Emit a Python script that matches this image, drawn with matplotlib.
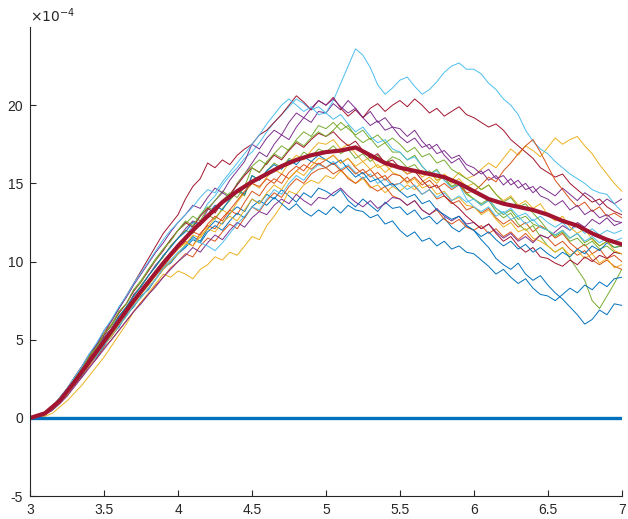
import numpy as np
import matplotlib.pyplot as plt
from matplotlib.ticker import FuncFormatter

# time grid of the paths (step 0.05) and of the mean (step 0.1)
t = np.round(np.linspace(3, 7, 81), 2)
t_mean = np.round(np.linspace(3, 7, 41), 2)

# sample paths, values in units of 1e-4
paths = [
    [0, 0.0, 0.2, 0.6, 1.0, 1.6, 2.1, 2.8, 3.5, 3.9, 4.6, 5.3, 5.8, 6.6, 7.1, 7.8, 8.2, 8.9, 9.6, 9.9, 10.5,
     11.0, 11.6, 11.3, 12.1, 12.6, 12.4, 13.1, 13.5, 13.2, 14.0, 13.7, 14.3, 14.0, 14.6, 14.2, 13.8, 14.4, 14.1, 14.7, 14.5,
     14.2, 14.6, 13.9, 13.5, 14.0, 13.6, 13.2, 13.8, 13.4, 13.5, 13.0, 13.3, 12.7, 12.9, 12.4, 12.8, 12.2, 11.9, 12.3, 12.0,
     11.4, 10.9, 10.2, 9.8, 9.5, 9.9, 9.2, 8.8, 9.1, 8.5, 8.0, 7.6, 7.1, 6.6, 6.0, 6.3, 6.9, 6.6, 7.3, 7.2],
    [0, 0.05, 0.3, 0.6, 1.1, 1.5, 2.3, 2.8, 3.6, 4.0, 4.8, 5.5, 6.0, 6.7, 7.3, 8.0, 8.5, 9.2, 9.6, 10.3, 10.8,
     11.3, 11.0, 11.8, 12.3, 12.1, 12.8, 13.3, 13.0, 13.8, 14.5, 14.2, 14.9, 15.3, 15.0, 15.7, 16.1, 15.8, 16.4, 16.2, 16.5,
     16.8, 16.3, 16.6, 16.0, 15.6, 15.9, 15.3, 15.5, 14.9, 15.0, 15.4, 14.8, 14.3, 14.6, 14.0, 14.2, 13.7, 13.9, 13.3, 13.5,
     13.1, 13.4, 12.8, 12.4, 12.7, 12.2, 12.5, 11.9, 12.3, 12.0, 11.5, 11.8, 11.2, 10.8, 11.1, 10.5, 10.8, 10.2, 10.4, 10.0],
    [0, 0.0, 0.1, 0.3, 0.7, 1.1, 1.6, 2.1, 2.7, 3.3, 3.9, 4.6, 5.3, 6.0, 6.8, 7.4, 8.0, 8.6, 9.2, 9.0, 9.4,
     9.2, 8.9, 9.5, 9.8, 10.3, 10.1, 10.6, 10.4, 11.0, 11.6, 11.4, 12.3, 12.9, 13.6, 14.5, 14.3, 14.9, 15.2, 15.0, 15.5,
     15.3, 15.8, 15.4, 15.0, 15.3, 14.7, 14.9, 14.4, 14.8, 14.5, 14.9, 14.6, 15.1, 15.4, 15.0, 15.6, 15.2, 15.7, 15.3, 15.5,
     15.9, 16.3, 16.0, 16.6, 17.2, 16.8, 17.4, 17.1, 16.7, 17.3, 17.9, 17.5, 17.8, 18.0, 17.4, 16.9, 16.2, 15.6, 15.0, 14.5],
    [0, 0.05, 0.3, 0.6, 1.2, 1.6, 2.4, 3.0, 3.8, 4.3, 5.2, 5.7, 6.5, 7.0, 7.9, 8.4, 9.1, 9.8, 10.3, 11.0, 11.5,
     12.1, 12.6, 12.4, 13.3, 13.9, 14.4, 14.1, 15.0, 15.6, 16.3, 17.0, 16.7, 17.5, 18.1, 17.8, 18.6, 19.2, 18.9, 19.6, 19.5,
     20.1, 19.7, 20.3, 19.8, 19.2, 19.6, 18.9, 19.2, 18.6, 18.5, 18.0, 18.4, 17.7, 17.2, 17.5, 16.8, 16.3, 16.6, 15.9, 15.5,
     15.8, 15.2, 15.5, 14.9, 15.3, 14.7, 15.0, 14.4, 14.8, 14.5, 14.2, 14.7, 14.3, 13.9, 14.4, 14.1, 13.6, 14.0, 13.7, 14.0],
    [0, 0.1, 0.35, 0.7, 1.3, 1.8, 2.6, 3.2, 4.0, 4.6, 5.4, 6.0, 6.8, 7.3, 8.2, 8.8, 9.5, 10.2, 10.8, 11.4, 12.0,
     12.4, 12.9, 12.6, 13.4, 13.9, 14.5, 14.2, 15.0, 15.6, 16.1, 16.5, 16.2, 16.9, 17.4, 17.1, 17.8, 18.3, 18.0, 18.7, 18.5,
     18.9, 18.4, 18.7, 18.0, 17.6, 17.9, 17.3, 17.6, 17.0, 17.0, 16.5, 16.8, 16.1, 15.6, 15.9, 15.2, 14.8, 15.1, 14.4, 14.0,
     13.6, 13.9, 13.2, 12.8, 13.1, 12.4, 12.0, 12.3, 11.6, 11.0, 10.6, 10.9, 10.2, 9.5, 8.8, 7.5, 7.0, 7.8, 8.6, 9.5],
    [0, 0.05, 0.25, 0.6, 1.0, 1.6, 2.2, 2.9, 3.5, 4.2, 4.8, 5.5, 6.1, 6.8, 7.4, 8.1, 8.6, 9.3, 9.8, 10.5, 11.0,
     11.6, 12.3, 12.9, 13.7, 14.2, 14.9, 15.5, 16.0, 16.6, 17.0, 17.6, 18.3, 18.9, 19.4, 19.9, 20.4, 20.1, 19.7, 19.9, 19.5,
     20.3, 21.4, 22.5, 23.6, 23.2, 22.4, 21.3, 20.7, 21.1, 21.6, 21.8, 21.2, 20.7, 21.0, 21.5, 22.1, 22.5, 22.7, 22.3, 22.3,
     22.0, 21.4, 21.0, 20.4, 20.0, 19.4, 18.4, 17.7, 17.2, 16.9, 16.4, 16.0, 15.6, 15.3, 15.0, 14.6, 14.4, 14.3, 13.7, 13.2],
    [0, 0.1, 0.35, 0.7, 1.3, 1.9, 2.6, 3.3, 4.0, 4.7, 5.4, 6.2, 7.0, 7.8, 8.6, 9.4, 10.2, 11.0, 11.8, 12.4, 13.0,
     14.0, 14.8, 15.3, 16.3, 16.0, 16.5, 16.2, 16.8, 17.2, 17.5, 18.1, 18.4, 18.9, 19.4, 20.0, 20.6, 20.2, 19.7, 20.3, 20.0,
     20.5, 19.8, 19.3, 19.7, 19.2, 19.8, 20.1, 19.6, 20.0, 20.3, 19.9, 20.4, 20.0, 19.5, 19.8, 19.3, 19.6, 19.9, 19.4, 19.2,
     18.9, 18.6, 18.8, 18.4, 17.8, 17.4, 17.0, 16.6, 16.0, 15.7, 15.4, 15.6, 15.0, 14.6, 14.2, 13.8, 14.0, 13.5, 13.2, 13.0],
    [0, 0.0, 0.25, 0.5, 1.0, 1.5, 2.2, 2.7, 3.4, 4.0, 4.7, 5.2, 5.9, 6.5, 7.2, 7.7, 8.3, 8.9, 9.5, 10.0, 10.5,
     10.9, 11.4, 11.2, 11.9, 12.3, 12.0, 12.6, 13.1, 12.8, 13.5, 13.9, 13.6, 14.1, 13.7, 13.3, 13.7, 13.2, 12.9, 13.3, 13.0,
     13.5, 13.1, 13.6, 13.3, 13.2, 12.8, 13.0, 12.4, 12.6, 12.0, 11.6, 11.9, 11.3, 11.5, 11.0, 11.3, 10.8, 11.0, 10.6, 10.5,
     10.1, 9.7, 9.2, 9.5, 9.0, 8.6, 8.9, 8.3, 7.9, 7.8, 7.5, 7.9, 8.3, 8.0, 8.5, 8.2, 8.7, 8.4, 8.9, 9.0],
    [0, 0.05, 0.2, 0.5, 1.0, 1.4, 2.1, 2.6, 3.3, 3.8, 4.5, 5.0, 5.6, 6.2, 6.8, 7.4, 7.9, 8.5, 9.0, 9.6, 10.0,
     10.5, 10.3, 11.0, 11.5, 11.3, 11.9, 12.4, 12.1, 12.8, 13.5, 13.2, 13.9, 14.4, 14.1, 14.8, 15.3, 15.0, 15.6, 15.9, 16.0,
     15.6, 15.9, 15.3, 15.0, 15.4, 14.8, 14.5, 14.8, 14.2, 14.0, 13.6, 13.9, 13.3, 13.0, 13.3, 12.7, 12.4, 12.7, 12.2, 12.0,
     12.3, 11.8, 12.1, 11.6, 11.9, 11.4, 11.8, 11.3, 11.7, 11.5, 11.0, 11.3, 10.8, 10.4, 10.7, 10.1, 9.8, 10.1, 9.7, 9.5],
    [0, 0.05, 0.2, 0.6, 1.0, 1.5, 2.2, 2.8, 3.4, 4.0, 4.7, 5.2, 5.9, 6.5, 7.2, 7.7, 8.3, 8.9, 9.5, 10.0, 10.5,
     11.1, 11.7, 11.5, 12.2, 12.8, 13.3, 13.0, 13.8, 14.4, 15.0, 14.7, 15.4, 15.9, 15.6, 16.3, 16.8, 16.5, 17.1, 17.6, 17.5,
     17.8, 17.2, 17.5, 16.9, 16.4, 16.7, 16.0, 16.2, 15.7, 15.5, 15.0, 15.3, 14.7, 14.9, 14.3, 14.5, 13.9, 14.1, 13.6, 13.5,
     13.0, 13.3, 12.7, 12.2, 12.5, 11.9, 12.1, 11.5, 11.3, 11.0, 10.6, 10.9, 10.4, 10.7, 10.2, 10.5, 9.9, 10.2, 9.6, 9.8],
    [0, 0.0, 0.2, 0.5, 0.9, 1.4, 2.0, 2.6, 3.2, 3.8, 4.4, 5.0, 5.6, 6.2, 6.8, 7.3, 7.9, 8.4, 9.0, 9.5, 10.0,
     10.4, 10.9, 10.6, 11.2, 11.7, 11.4, 12.0, 12.5, 12.2, 12.8, 13.2, 13.0, 13.6, 14.0, 13.7, 14.3, 13.9, 13.6, 14.1, 14.0,
     14.4, 14.7, 14.2, 13.8, 13.5, 13.9, 13.4, 13.7, 14.1, 14.0, 13.6, 13.9, 13.3, 13.0, 13.4, 12.9, 12.6, 12.9, 12.4, 12.5,
     12.1, 12.4, 11.9, 11.5, 11.8, 11.3, 11.6, 11.2, 11.7, 11.5, 11.9, 12.3, 12.0, 12.5, 12.2, 12.7, 12.4, 12.8, 12.3, 12.5],
    [0, 0.05, 0.3, 0.6, 1.2, 1.7, 2.4, 3.0, 3.8, 4.4, 5.1, 5.7, 6.5, 7.1, 7.8, 8.5, 9.1, 9.7, 10.3, 11.0, 11.5,
     12.0, 11.8, 12.5, 13.0, 12.7, 13.4, 13.9, 14.5, 14.2, 15.5, 15.2, 15.8, 16.3, 16.0, 16.6, 16.4, 17.0, 16.7, 17.2, 17.0,
     17.4, 16.9, 17.2, 16.6, 16.9, 16.4, 16.8, 16.3, 16.7, 16.5, 16.0, 16.2, 15.6, 15.8, 15.2, 15.4, 14.8, 14.9, 14.3, 14.0,
     13.7, 14.0, 13.4, 13.0, 13.3, 12.7, 12.9, 12.4, 12.2, 12.0, 11.6, 11.9, 11.3, 11.5, 11.0, 11.3, 10.8, 11.0, 10.6, 10.5],
    [0, 0.05, 0.25, 0.6, 1.0, 1.5, 2.2, 2.8, 3.5, 4.0, 4.7, 5.3, 5.9, 6.5, 7.2, 7.7, 8.3, 8.9, 9.6, 10.1, 10.6,
     11.0, 11.5, 11.2, 11.0, 10.7, 11.2, 11.8, 12.4, 12.9, 13.5, 13.3, 14.0, 14.6, 14.3, 15.0, 15.5, 15.2, 15.8, 16.2, 16.0,
     16.4, 15.9, 16.2, 15.7, 15.3, 15.6, 15.0, 15.3, 14.8, 15.0, 14.6, 14.9, 14.3, 14.6, 14.1, 14.4, 13.9, 14.2, 13.8, 14.0,
     13.6, 13.9, 13.4, 13.1, 13.4, 12.9, 13.1, 12.6, 12.9, 12.5, 12.2, 12.5, 12.0, 12.3, 11.8, 12.1, 11.7, 12.0, 11.8, 12.0],
    [0, 0.05, 0.3, 0.7, 1.2, 1.8, 2.5, 3.1, 3.9, 4.5, 5.3, 5.9, 6.7, 7.3, 8.1, 8.7, 9.4, 10.1, 10.7, 11.4, 12.0,
     12.5, 12.2, 12.9, 13.4, 13.1, 13.8, 14.3, 14.9, 15.5, 16.0, 15.7, 16.3, 16.8, 16.5, 17.1, 17.6, 17.3, 17.8, 18.2, 18.0,
     18.3, 17.8, 17.4, 17.7, 17.1, 16.6, 16.9, 16.3, 16.5, 16.0, 15.6, 15.8, 15.2, 14.7, 14.9, 14.2, 13.8, 13.4, 12.9, 12.5,
     12.1, 12.4, 11.8, 11.3, 11.6, 11.0, 10.6, 10.9, 10.3, 10.2, 9.9, 9.7, 10.1, 9.8, 10.3, 10.0, 10.4, 10.2, 10.6, 10.5],
    [0, 0.05, 0.25, 0.6, 1.1, 1.7, 2.4, 3.0, 3.7, 4.4, 5.1, 5.7, 6.5, 7.1, 7.8, 8.4, 9.1, 9.7, 10.4, 10.9, 11.5,
     11.9, 12.5, 12.3, 13.0, 13.6, 13.3, 14.0, 14.6, 14.3, 15.5, 15.2, 15.8, 16.2, 15.9, 16.5, 16.2, 16.7, 16.4, 16.8, 16.5,
     16.2, 16.5, 15.9, 15.4, 15.7, 15.1, 15.3, 14.8, 15.0, 14.5, 14.1, 14.3, 13.7, 13.9, 13.3, 13.0, 12.7, 12.9, 12.3, 12.0,
     11.6, 11.9, 11.4, 11.0, 11.3, 10.8, 11.1, 10.6, 10.9, 10.5, 10.2, 10.6, 10.3, 10.8, 10.5, 11.0, 10.7, 11.2, 10.9, 11.0],
    [0, 0.05, 0.25, 0.6, 1.1, 1.6, 2.3, 2.9, 3.6, 4.2, 4.9, 5.5, 6.2, 6.8, 7.5, 8.1, 8.7, 9.3, 9.9, 10.5, 11.0,
     11.4, 11.9, 11.7, 12.4, 12.9, 12.6, 13.3, 13.9, 14.5, 15.0, 14.8, 15.3, 15.0, 15.6, 15.3, 15.8, 16.2, 15.9, 16.3, 16.0,
     16.3, 15.8, 16.1, 15.6, 15.9, 15.4, 15.7, 15.2, 15.6, 15.5, 15.1, 15.4, 14.9, 15.2, 14.7, 15.0, 14.6, 14.9, 14.4, 14.5,
     14.9, 15.4, 15.1, 15.8, 16.3, 16.9, 17.4, 17.8, 17.0, 16.1, 15.2, 14.6, 14.0, 13.5, 13.8, 13.2, 13.5, 12.9, 13.1, 12.8],
    [0, 0.05, 0.2, 0.6, 1.0, 1.5, 2.2, 2.8, 3.5, 4.1, 4.8, 5.3, 6.0, 6.7, 7.3, 7.9, 8.5, 9.1, 9.7, 10.3, 10.8,
     11.2, 11.0, 11.6, 12.1, 11.9, 12.5, 12.9, 12.6, 13.3, 14.0, 13.7, 14.4, 14.9, 14.6, 15.3, 15.8, 15.5, 16.1, 16.6, 16.5,
     16.8, 16.3, 16.6, 16.1, 16.4, 15.9, 16.2, 15.7, 16.1, 16.0, 15.6, 15.9, 15.4, 15.7, 15.2, 15.5, 15.0, 15.3, 14.8, 15.0,
     14.6, 14.9, 14.3, 13.9, 14.2, 13.6, 13.9, 13.4, 13.7, 13.0, 12.6, 12.9, 12.2, 11.8, 12.1, 11.4, 11.0, 11.3, 10.7, 10.5],
    [0, 0.05, 0.3, 0.7, 1.2, 1.8, 2.6, 3.3, 4.1, 4.7, 5.6, 6.2, 7.0, 7.7, 8.5, 9.2, 9.9, 10.6, 11.2, 11.9, 12.5,
     13.0, 13.6, 13.4, 14.1, 14.7, 14.4, 15.2, 15.8, 16.4, 17.5, 17.2, 17.9, 18.4, 18.1, 18.9, 19.5, 19.2, 19.8, 20.3, 20.0,
     20.4, 19.9, 19.5, 19.8, 19.2, 18.7, 19.0, 18.4, 18.6, 18.0, 17.6, 17.9, 17.3, 17.5, 16.9, 17.1, 16.6, 16.8, 16.2, 16.0,
     15.6, 15.9, 15.3, 15.5, 14.9, 15.2, 14.6, 14.8, 14.2, 14.0, 13.6, 13.9, 13.3, 13.6, 13.0, 13.3, 12.8, 13.0, 12.6, 12.5],
    [0, 0.1, 0.3, 0.7, 1.3, 1.7, 2.6, 3.1, 4.0, 4.5, 5.4, 5.9, 6.8, 7.3, 8.2, 8.7, 9.5, 10.1, 10.8, 11.3, 12.0,
     12.6, 12.3, 13.0, 13.5, 13.2, 13.9, 14.4, 14.1, 14.8, 16.0, 15.7, 16.4, 16.9, 16.6, 17.2, 17.7, 17.4, 17.9, 18.3, 18.0,
     18.4, 18.9, 18.5, 18.1, 18.4, 17.8, 18.1, 17.6, 17.9, 17.5, 17.0, 17.3, 16.7, 16.9, 16.3, 16.5, 15.9, 15.6, 15.3, 15.0,
     14.6, 14.9, 14.3, 13.8, 14.1, 13.5, 13.7, 13.1, 12.6, 12.0, 11.7, 12.0, 11.5, 11.8, 11.2, 11.5, 11.0, 11.3, 10.9, 11.0],
    [0, 0.05, 0.3, 0.7, 1.3, 1.9, 2.6, 3.3, 4.1, 4.8, 5.6, 6.3, 7.1, 7.8, 8.6, 9.3, 10.0, 10.7, 11.4, 12.0, 12.5,
     13.0, 13.5, 14.1, 14.6, 14.4, 15.1, 15.7, 16.3, 16.9, 17.5, 18.1, 18.8, 19.4, 20.0, 20.4, 20.0, 19.6, 19.9, 19.4, 19.5,
     19.1, 19.4, 18.8, 18.3, 18.6, 18.0, 17.6, 17.8, 17.2, 17.0, 16.5, 16.7, 16.1, 15.6, 15.8, 15.2, 14.7, 14.9, 14.0, 13.5,
     13.2, 13.5, 12.9, 13.2, 12.7, 12.9, 12.4, 12.7, 12.2, 12.0, 11.7, 12.0, 11.5, 11.8, 11.3, 11.6, 11.2, 11.5, 11.3, 11.5],
]

mean_path = [0, 0.3, 1.1, 2.3, 3.6, 4.9, 6.2, 7.5, 8.7, 9.9, 11.0, 12.0, 12.9, 13.8, 14.5, 15.1, 15.6, 16.1, 16.5, 16.8,
             17.0, 17.1, 17.3, 16.8, 16.3, 16.0, 15.8, 15.6, 15.4, 15.0, 14.5, 14.0, 13.7, 13.5, 13.3, 13.0, 12.6, 12.3,
             11.8, 11.4, 11.1]

yticks = [-5, 0, 5, 10, 15, 20]
xticks = [3, 3.5, 4, 4.5, 5, 5.5, 6, 6.5, 7]

# matlab default colour order
colors = ['#0072BD', '#D95319', '#EDB120', '#7E2F8E', '#77AC30', '#4DBEEE', '#A2142F']

for i, p in enumerate(paths):
    assert len(p) == len(t), (i, len(p))

plt.rcParams['font.family'] = ['Liberation Sans', 'DejaVu Sans']
plt.rcParams['axes.unicode_minus'] = False
fig = plt.figure(figsize=(6.28, 5.19), dpi=100)
ax = fig.add_axes([0.048, 0.044, 0.942, 0.904])

scale = 1e-4
for i, p in enumerate(paths):
    ax.plot(t, np.array(p) * scale, color=colors[i % 7], lw=0.7)

ax.plot(t, np.zeros_like(t), color='#0072BD', lw=2.4)
ax.plot(t_mean, np.array(mean_path) * scale, color='#A2142F', lw=3.0)

ax.set_xlim(3, 7)
ax.set_ylim(-5 * scale, 25 * scale)
ax.set_xticks(xticks)
ax.set_xticklabels([f'{x:g}' for x in xticks])
ax.set_yticks(np.array(yticks) * scale)
ax.yaxis.set_major_formatter(FuncFormatter(lambda v, pos: f'{v / scale:.0f}'))

# exponent label at the top of the y axis, as matlab draws it
ax.text(0.0, 1.004, r'$\times 10^{-4}$', transform=ax.transAxes, fontsize=10,
        color='#262626', ha='left', va='bottom')

for s in ['top', 'right']:
    ax.spines[s].set_visible(False)
for s in ['left', 'bottom']:
    ax.spines[s].set_color('#262626')
    ax.spines[s].set_linewidth(0.8)
ax.tick_params(direction='in', length=4, width=0.8, colors='#262626', labelsize=10, pad=5)

fig.savefig('out.png', dpi=100)
